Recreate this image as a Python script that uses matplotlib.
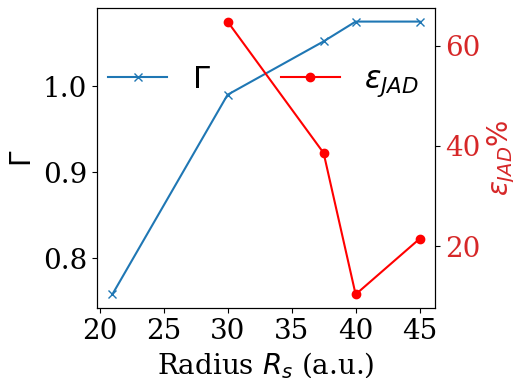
import matplotlib
matplotlib.use("Agg")
import matplotlib.pyplot as plt

radius_gamma = [21, 30, 37.5, 40, 45]
gamma = [0.758, 0.990, 1.052, 1.075, 1.075]
radius_eps = [30, 37.5, 40, 45]
eps_jad = [64.8, 38.6, 10.4, 21.5]

plt.rcParams['font.family'] = 'serif'
plt.rcParams['font.serif'] = ['DejaVu Serif']

fig = plt.figure(figsize=(5.13, 3.78), dpi=100)
ax1 = fig.add_axes([0.189, 0.185, 0.659, 0.794])
ax2 = ax1.twinx()

l1, = ax1.plot(radius_gamma, gamma, color='tab:blue', marker='x', markersize=6, label=r'$\Gamma$')
l2, = ax2.plot(radius_eps, eps_jad, color='red', marker='o', markersize=6, label=r'$\varepsilon_{JAD}$')

ax1.set_xlabel(r'Radius $R_s$ (a.u.)', fontsize=20)
ax1.set_ylabel(r'$\Gamma$', fontsize=20)
ax2.set_ylabel(r'$\varepsilon_{JAD}\%$', fontsize=20, color='tab:red')
ax1.tick_params(labelsize=20)
ax2.tick_params(axis='y', labelsize=20, labelcolor='tab:red')
ax1.set_xticks([20, 25, 30, 35, 40, 45])
ax1.set_yticks([0.8, 0.9, 1.0])
ax2.set_yticks([20, 40, 60])

ax2.legend([l1, l2], [l1.get_label(), l2.get_label()], ncol=2, frameon=False,
           fontsize=22, loc='center', bbox_to_anchor=(0.493, 0.755),
           handlelength=1.93, columnspacing=2.3)

fig.savefig('out.png', dpi=100)
